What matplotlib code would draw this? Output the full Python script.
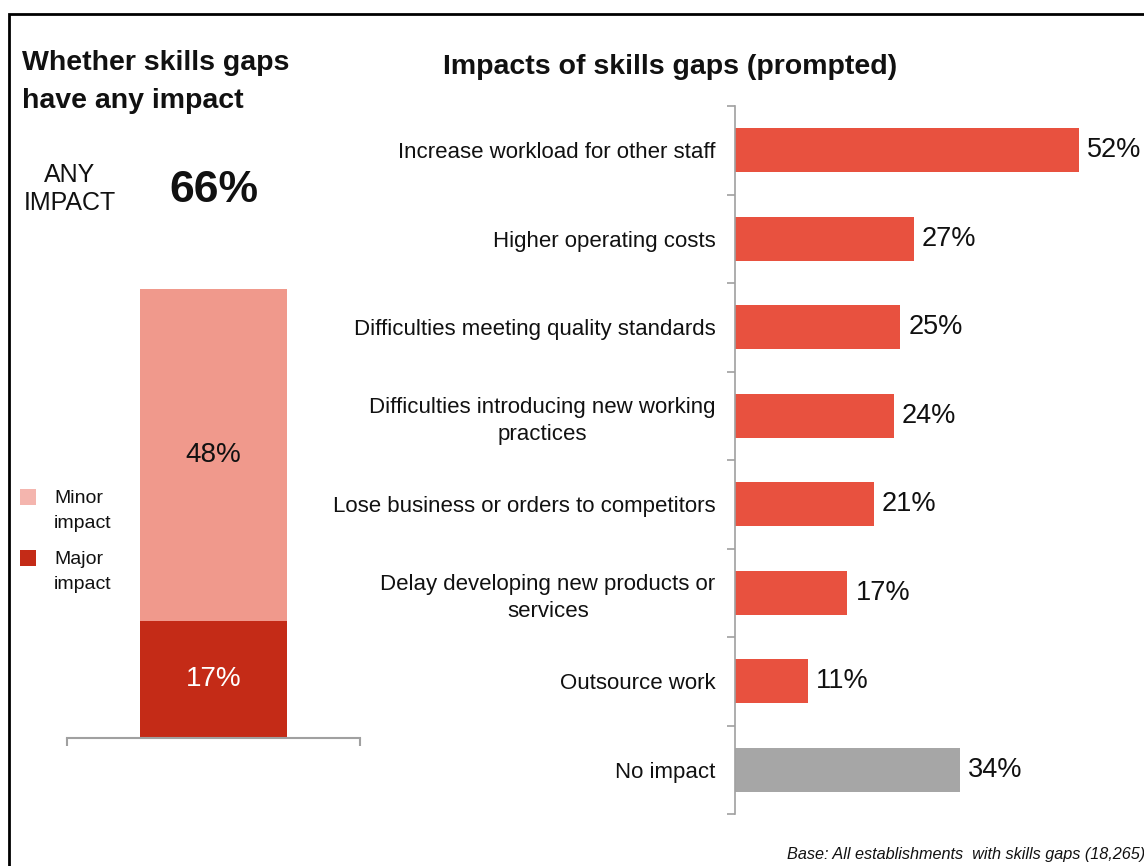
import matplotlib.pyplot as plt
import numpy as np
from matplotlib.patches import Rectangle

plt.rcParams['font.family'] = ['Liberation Sans', 'DejaVu Sans']

# Left panel: whether skills gaps have any impact
any_impact = 66
major_impact = 17
minor_impact = 48

# Right panel: prompted impacts
impact_labels = [
    "Increase workload for other staff",
    "Higher operating costs",
    "Difficulties meeting quality standards",
    "Difficulties introducing new working\npractices",
    "Lose business or orders to competitors",
    "Delay developing new products or\nservices",
    "Outsource work",
    "No impact",
]
impact_values = [52, 27, 25, 24, 21, 17, 11, 34]

red = '#E8513F'
grey = '#A6A6A6'
major_col = '#C42B17'
minor_col = '#F0998C'
minor_key = '#F4B5AE'
axis_grey = '#A0A0A0'
text_col = '#111111'

W, H = 1144, 866
fig = plt.figure(figsize=(W / 100, H / 100), dpi=100)

def px_axes(x0, y0, x1, y1):
    # pixel box (top-left origin) -> figure axes
    return fig.add_axes([x0 / W, 1 - y1 / H, (x1 - x0) / W, (y1 - y0) / H])

def px_text(x, y, s, **kw):
    return fig.text(x / W, 1 - y / H, s, **kw)

# outer frame (open at right and bottom)
fig.patches.append(Rectangle((9 / W, -0.2), 1.3, 1.2 - 14 / H, transform=fig.transFigure,
                             fill=False, edgecolor='black', linewidth=2, clip_on=False))

# ---- left stacked bar ----
axl = px_axes(67, 48, 360, 738)
axl.bar([0], [major_impact], width=1, color=major_col)
axl.bar([0], [minor_impact], width=1, bottom=[major_impact], color=minor_col)
axl.set_xlim(-1, 1)
axl.set_ylim(0, 100)
axl.text(0, major_impact / 2, f"{major_impact}%", ha='center', va='center',
         color='white', fontsize=20)
axl.text(0, major_impact + minor_impact / 2, f"{minor_impact}%", ha='center', va='center',
         color=text_col, fontsize=20)
for s in ['top', 'left', 'right']:
    axl.spines[s].set_visible(False)
axl.spines['bottom'].set_color(axis_grey)
axl.spines['bottom'].set_linewidth(1.5)
axl.set_yticks([])
axl.set_xticks([-1, 1])
axl.set_xticklabels([])
axl.tick_params(axis='x', direction='out', length=6, color=axis_grey, width=1.5)
axl.patch.set_visible(False)

px_text(22, 82, "Whether skills gaps\nhave any impact", fontsize=20.5,
        fontweight='bold', ha='left', va='center', linespacing=1.55, color=text_col)
px_text(70, 189, "ANY\nIMPACT", fontsize=18, ha='center', va='center',
        linespacing=1.25, color=text_col)
px_text(214, 190, f"{any_impact}%", fontsize=32, fontweight='bold',
        ha='center', va='center', color=text_col)

# legend keys drawn by hand so the two-line labels get wider spacing
for key_col, label, yc in [(minor_key, "Minor\nimpact", 511), (major_col, "Major\nimpact", 572)]:
    fig.patches.append(Rectangle((20 / W, 1 - (yc - 6) / H), 16 / W, 16 / H,
                                 transform=fig.transFigure, facecolor=key_col,
                                 edgecolor='none'))
    px_text(54, yc, label, fontsize=14, ha='left', va='center', multialignment='left',
            linespacing=1.6, color=text_col)

# ---- right horizontal bars ----
axr = px_axes(735, 106, 1132, 814)
y = np.arange(len(impact_values))
colors = [red] * (len(impact_values) - 1) + [grey]
axr.barh(y, impact_values, height=0.5, color=colors)
axr.set_xlim(0, 60)
axr.set_ylim(len(impact_values) - 0.5, -0.5)
for yi, v in zip(y, impact_values):
    axr.text(v + 1.2, yi, f"{v}%", ha='left', va='center', fontsize=19.5, color=text_col)
axr.set_yticks(y)
axr.set_yticklabels(impact_labels, fontsize=16, multialignment='center',
                    linespacing=1.35, color=text_col)
axr.tick_params(axis='y', which='major', length=0, pad=14)
axr.set_yticks(np.arange(-0.5, len(impact_values), 1), minor=True)
axr.tick_params(axis='y', which='minor', length=6, color=axis_grey, width=1.2)
axr.set_xticks([])
for s in ['top', 'bottom', 'right']:
    axr.spines[s].set_visible(False)
axr.spines['left'].set_color(axis_grey)
axr.spines['left'].set_linewidth(1.2)
axr.patch.set_visible(False)

px_text(443, 67, "Impacts of skills gaps (prompted)", fontsize=20.5,
        fontweight='bold', ha='left', va='center', color=text_col)
px_text(1145, 855, "Base: All establishments  with skills gaps (18,265)",
        fontsize=11.7, style='italic', ha='right', va='center', color=text_col)

fig.savefig('out.png', dpi=100)
